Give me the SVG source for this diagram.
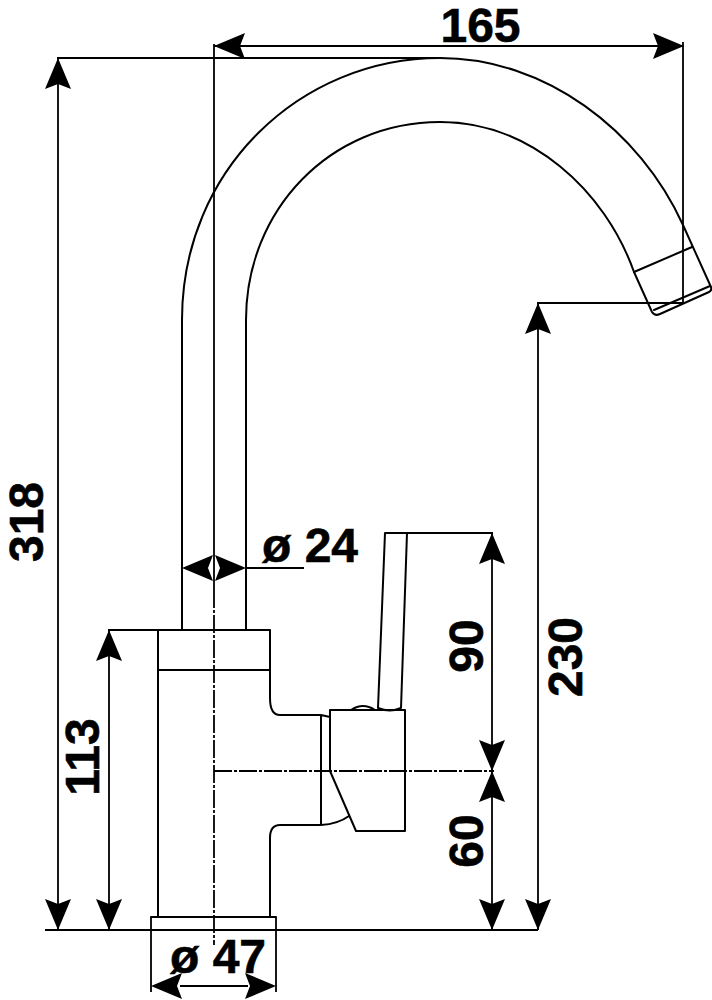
<svg xmlns="http://www.w3.org/2000/svg" width="712" height="1000" viewBox="0 0 712 1000">
<style>
.l{fill:none;stroke:#000;stroke-width:2;stroke-linecap:round;stroke-linejoin:round}
.d{fill:none;stroke:#000;stroke-width:1.8;stroke-dasharray:18 2 3 2}
.c{fill:none;stroke:#000;stroke-width:1.8}
.a{fill:#000;stroke:none}
text{font-family:"Liberation Sans",Arial,sans-serif;font-weight:700;font-size:48px;fill:#000;stroke:#000;stroke-width:.6}
</style>
<defs>
<path id="ah" class="a" d="M0 0L31-13L26 0L31 13Z"/>
</defs>
<rect width="712" height="1000" fill="#fff"/>
<g id="faucet">
<path class="l" d="M182 630V320C182 170 300 58 440 58C545 58 640 130 683 225L711 287C712 290 711 291 709 292L660 314C656 316 654 315 652 312L634 272C605 190 530 122 440 122C330 122 246 210 246 320V630"/>
<path class="l" d="M634 272L692 247M654 310L710 286"/>
<path class="l" d="M158 630H270V698C270 710 274 715 280 715H320M158 670H270M158 630V917M320 825H280C273 825 270 829 270 838V917M151 917H276"/>
</g>
<g id="handle">
<path class="l" d="M385 533L378 708M407 533L401 708M378 708Q390 713 401 708"/>
<path class="l" d="M330 710H405V831H356L330 771V710M351 710Q363 702 375 710M321 715V825M321 715L330 717M321 825Q338 824 349 816"/>
</g>
<g id="connectors">
<path class="c" d="M214 44V590M57 58H440M214 46H683M683 42V303M537 303H683M45 930H538M108 630H158M385 533H493M109 630V930M58 58V930M492 533V930M538 303V930M246 568H304M151 917V992M276 917V992M180 986H248"/>
<path class="d" d="M214 590V945M214 771H494"/>
<use href="#ah" transform="translate(214 46)"/>
<use href="#ah" transform="translate(684 46) rotate(180)"/>
<use href="#ah" transform="translate(58 58) rotate(90)"/>
<use href="#ah" transform="translate(58 930) rotate(-90)"/>
<use href="#ah" transform="translate(109 630) rotate(90)"/>
<use href="#ah" transform="translate(109 930) rotate(-90)"/>
<use href="#ah" transform="translate(492 533) rotate(90)"/>
<use href="#ah" transform="translate(492 771) rotate(-90)"/>
<use href="#ah" transform="translate(492 771) rotate(90)"/>
<use href="#ah" transform="translate(492 930) rotate(-90)"/>
<use href="#ah" transform="translate(538 303) rotate(90)"/>
<use href="#ah" transform="translate(538 930) rotate(-90)"/>
<use href="#ah" transform="translate(182 568)"/>
<use href="#ah" transform="translate(246 568) rotate(180)"/>
<use href="#ah" transform="translate(151 986)"/>
<use href="#ah" transform="translate(276 986) rotate(180)"/>
</g>
<g id="labels">
<text x="480.500" y="42" text-anchor="middle">165</text>
<text x="262" y="562">ø 24</text>
<text x="170" y="973">ø 47</text>
<text transform="translate(43 522) rotate(-90)" text-anchor="middle">318</text>
<text transform="translate(99 757) rotate(-90)" text-anchor="middle">113</text>
<text transform="translate(483 646) rotate(-90)" text-anchor="middle">90</text>
<text transform="translate(483 841) rotate(-90)" text-anchor="middle">60</text>
<text transform="translate(582 657) rotate(-90)" text-anchor="middle">230</text>
</g>
</svg>
